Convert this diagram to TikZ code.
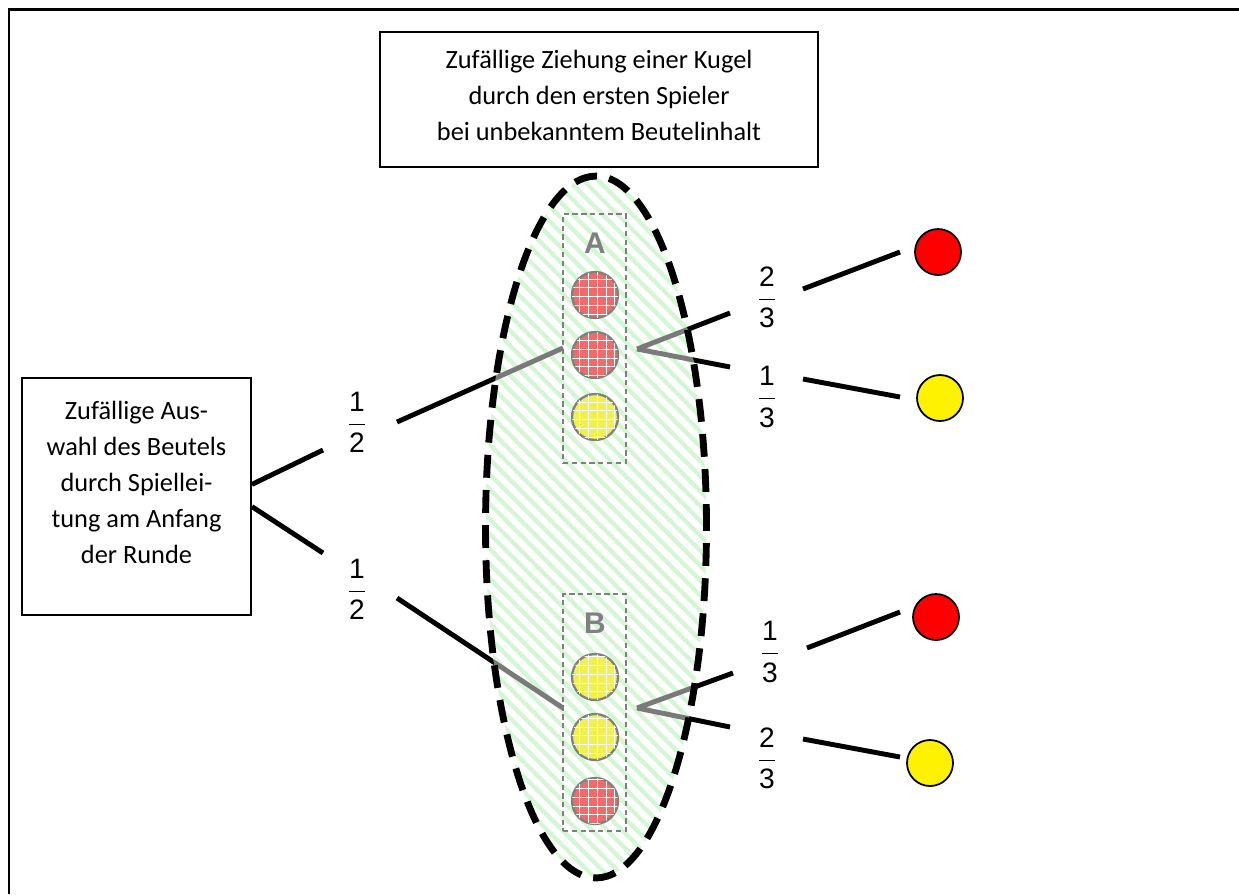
\documentclass[tikz,border=0pt]{standalone}
\usepackage{fontspec}
\setmainfont{Carlito}
\newfontfamily\arial{Liberation Sans}
\usetikzlibrary{patterns.meta}

\definecolor{kugelrot}{HTML}{F06A6A}
\definecolor{kugelgelb}{HTML}{F0F050}
\definecolor{streifen}{HTML}{D2F7D2}
\definecolor{grauast}{HTML}{7A7A7A}

\newcommand\bruch[2]{$\displaystyle\frac{\hbox{#1}}{\hbox{#2}}$}

\tikzset{
  kasten/.style={draw, line width=1.1pt, align=center, font=\fontsize{15}{20.5}\selectfont},
  bruchtext/.style={font=\arial\fontsize{16}{18}\selectfont, inner sep=0pt},
  ast/.style={line width=2.8pt},
  astgrau/.style={line width=2.8pt, grauast},
  kugel/.style={circle, draw, line width=1pt, minimum size=0.92cm, inner sep=0pt, fill=#1},
  zkugel/.style={circle, draw=gray, line width=1.3pt, minimum size=0.92cm, inner sep=0pt, fill=#1,
    postaction={pattern={Hatch[angle=0,distance=5pt,line width=0.6pt]}, pattern color=white}},
  beutel/.style={draw=gray, densely dashed, line width=0.8pt, minimum width=1.26cm},
  buchstabe/.style={text=gray, font=\arial\bfseries\fontsize{17}{19}\selectfont},
}

\begin{document}
\begin{tikzpicture}[x=0.02cm, y=-0.02cm]
\useasboundingbox (0,0) rectangle (1239,894);
% outer frame
\draw[line width=1.7pt] (9,894) -- (9,9) -- (1239,9);

% text boxes
\node[kasten, minimum width=8.76cm, minimum height=2.7cm] (ziehung) at (599,99.5)
  {Zufällige Ziehung einer Kugel\\durch den ersten Spieler\\bei unbekanntem Beutelinhalt\\[-22pt]\strut};
\node[kasten, minimum width=4.58cm, minimum height=4.74cm] (auswahl) at (136.5,496.5)
  {Zufällige Aus-\\wahl des Beutels\\durch Spiellei-\\tung am Anfang\\der Runde\\[-11pt]\strut};

% probabilities
\node[bruchtext] (pa) at (357,422) {\bruch{1}{2}};
\node[bruchtext] (pb) at (357,589) {\bruch{1}{2}};
\node[bruchtext] (par) at (767,297) {\bruch{2}{3}};
\node[bruchtext] (pag) at (767,397) {\bruch{1}{3}};
\node[bruchtext] (pbr) at (770,652) {\bruch{1}{3}};
\node[bruchtext] (pbg) at (767,758) {\bruch{2}{3}};

% drawn balls
\node[kugel=red] (rot1) at (938,252) {};
\node[kugel=yellow] (gelb1) at (940,398) {};
\node[kugel=red] (rot2) at (936,617) {};
\node[kugel=yellow] (gelb2) at (930,763) {};

% branch points
\coordinate (l1a) at (323,450);
\coordinate (l1b) at (397,422);
\coordinate (l2a) at (323,553);
\coordinate (l2b) at (397,598);
\coordinate (ain) at (563,348);
\coordinate (bin) at (563,708);
\coordinate (aout) at (637,349);
\coordinate (bout) at (637,708);
\coordinate (aro) at (730,313);
\coordinate (agu) at (730,367);
\coordinate (bro) at (733,673);
\coordinate (bgu) at (730,727);
\coordinate (r1a) at (803,289);
\coordinate (r1b) at (900,252);
\coordinate (r2a) at (803,379);
\coordinate (r2b) at (900,397);
\coordinate (r3a) at (807,648);
\coordinate (r3b) at (900,612);
\coordinate (r4a) at (803,739);
\coordinate (r4b) at (900,757);

% black branches
\draw[ast] (auswahl.6.7) -- (l1a) (l1b) -- (ain);
\draw[ast] (auswahl.-5.2) -- (l2a) (l2b) -- (bin);
\draw[ast] (aout) -- (aro) (aout) -- (agu);
\draw[ast] (bout) -- (bro) (bout) -- (bgu);
\draw[ast] (r1a) -- (r1b) (r2a) -- (r2b) (r3a) -- (r3b) (r4a) -- (r4b);

% unknown bag
\fill[white] (596,527) ellipse [x radius=2.21cm, y radius=7.02cm];
\fill[pattern={Lines[angle=-45,distance=6pt,line width=2.4pt]}, pattern color=streifen]
  (596,527) ellipse [x radius=2.21cm, y radius=7.02cm];

\node[beutel, minimum height=4.98cm] (boxA) at (594.5,338.5) {};
\node[beutel, minimum height=4.74cm] (boxB) at (594.5,712.5) {};
\node[buchstabe] (la) at (595,243) {A};
\node[buchstabe] (lb) at (595,623) {B};
\foreach \n/\y/\f in {a1/295/kugelrot, a2/355/kugelrot, a3/417/kugelgelb,
                      b1/677/kugelgelb, b2/737/kugelgelb, b3/801/kugelrot}
  \node[zkugel=\f] (\n) at (595,\y) {};

\begin{scope}
  \clip (596,527) ellipse [x radius=2.21cm, y radius=7.02cm];
  \draw[astgrau] (l1b) -- (ain) (l2b) -- (bin);
  \draw[astgrau] (aout) -- (aro) (aout) -- (agu);
  \draw[astgrau] (bout) -- (bro) (bout) -- (bgu);
\end{scope}
\draw[line width=3.9pt, dash pattern=on 13pt off 7pt]
  (596,527) ellipse [x radius=2.21cm, y radius=7.02cm];
\end{tikzpicture}
\end{document}
